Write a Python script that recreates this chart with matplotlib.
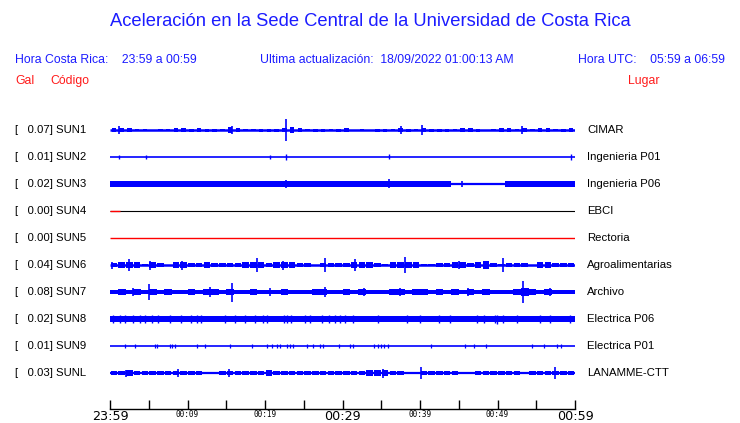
import numpy as np
import matplotlib
matplotlib.use("Agg")
import matplotlib.pyplot as plt

# ---------------- data ----------------
stations = ["SUN1", "SUN2", "SUN3", "SUN4", "SUN5", "SUN6", "SUN7", "SUN8", "SUN9", "SUNL"]
peak_gal = [0.07, 0.01, 0.02, 0.00, 0.00, 0.04, 0.08, 0.02, 0.01, 0.03]
places = ["CIMAR", "Ingenieria P01", "Ingenieria P06", "EBCI", "Rectoria",
          "Agroalimentarias", "Archivo", "Electrica P06", "Electrica P01", "LANAMME-CTT"]
tick_minutes = [0, 10, 20, 30, 40, 50, 60]
tick_labels = ["23:59", "00:09", "00:19", "00:29", "00:39", "00:49", "00:59"]

# per-minute envelope (half amplitude, pixel-like units)
env_sun1 = [2.5, 3, 2.5, 1.5, 1.5, 0.5, 1.5, 1.5, 2.5, 2.5, 2, 2.5, 2, 2, 1.5, 3.5, 3, 1.5, 1.5, 2,
            2, 2, 3, 3.5, 2.5, 1.5, 2, 2, 1.5, 2, 2.5, 0.5, 1.5, 0.5, 2, 2, 1.5, 2.5, 2, 1,
            3, 2, 2, 2, 1, 2.5, 2.5, 2, 0.5, 1.5, 2.5, 2.5, 1.5, 3, 1, 2.5, 2.5, 1.5, 2, 2.5]
env_sun2 = [0] * 60
env_sun3 = [3] * 44 + [0, 0, 0, 0, 0, 0, 0] + [3] * 9
env_sun4 = [0] * 60
env_sun5 = [0] * 60
env_sun6 = [2.5, 3, 3, 3, 1.5, 3, 2.5, 0.5, 3, 3.5, 2, 2, 3, 2.5, 2.5, 2.5, 2.5, 3, 3, 3,
            2, 3, 3, 3, 2.5, 2.5, 0.5, 2.5, 2.5, 2.5, 2, 3, 3, 3, 2.5, 1.5, 3.5, 3.5, 3.5, 3,
            1, 1.5, 2.5, 2, 3, 3, 2, 3, 4, 2, 1.5, 2.5, 2.5, 2.5, 0.5, 3, 3, 2.5, 2.5, 2.5]
env_sun7 = [2.5, 3, 2.5, 3, 2, 3.5, 2.5, 3, 2.5, 2.5, 3, 2.5, 3.5, 3, 2.5, 3, 2.5, 2.5, 3, 2.5,
            2.5, 2.5, 3, 2, 2.5, 2.5, 3, 3, 2.5, 2.5, 3, 2.5, 3, 2, 2.5, 2, 3, 3, 2.5, 3,
            3, 2.5, 3, 2.5, 3, 2.5, 3, 2.5, 3, 2.5, 2.5, 2.5, 3, 4, 3, 2.5, 3, 2, 2.5, 2.5]
env_sun8 = [3] * 60
env_sun9 = [0] * 60
env_sunl = [2, 2.5, 3, 2.5, 2.5, 2.5, 2, 2.5, 2.5, 2, 2.5, 2.5, 1, 1.5, 2.5, 2.5, 2.5, 2.5, 2.5, 2.5,
            3, 2.5, 2.5, 2, 2.5, 2.5, 2.5, 2, 2.5, 2.5, 2.5, 2.5, 2, 3, 3, 3, 2.5, 2, 1, 1,
            2, 2.5, 2.5, 2.5, 2.5, 1, 1, 2.5, 2, 2.5, 2.5, 2.5, 2.5, 1, 2.5, 2.5, 2.5, 2.5, 2.5, 2.5]

# spikes: (minute, half amplitude)
spk_sun1 = [(1.2, 4), (15.8, 4), (22.7, 11), (37.6, 4), (40.2, 5), (53.2, 4)]
spk_sun2 = [(1.2, 2), (4.6, 2), (20.7, 2), (22.7, 3), (36.0, 2.5), (59.5, 3)]
spk_sun3 = [(36.0, 4.5), (45.4, 3), (22.7, 4)]
spk_sun4 = []
spk_sun5 = []
spk_sun6 = [(0.3, 3.5), (2.4, 6), (5.1, 4.5), (9.3, 4.5), (19.0, 7), (22.3, 4.5), (27.7, 7),
            (31.6, 6), (38.0, 8), (45.0, 4), (50.7, 7)]
spk_sun7 = [(3.0, 4), (5.0, 8), (12.9, 5), (15.7, 9.5), (20.7, 4), (27.7, 5), (32.8, 4),
            (37.4, 4), (46.2, 4), (53.3, 11), (56.8, 4)]
spk_sun8 = [(0.4, 4), (1.3, 4), (1.9, 4), (3.0, 4), (3.9, 4), (4.5, 4), (5.4, 4), (6.2, 4),
            (7.7, 4), (9.2, 4), (10.5, 4), (11.2, 4), (11.8, 4), (14.8, 4), (16.1, 4), (17.4, 4),
            (18.7, 4), (19.8, 4), (20.2, 4), (22.4, 4), (22.8, 4), (23.4, 4), (25.2, 4), (25.8, 4),
            (27.3, 4), (28.2, 4), (29.0, 4), (29.7, 4), (30.3, 4), (31.4, 4), (34.6, 4), (38.3, 4),
            (40.0, 4), (42.4, 4), (43.9, 4), (47.3, 4), (48.2, 4), (49.7, 4), (49.9, 5), (50.7, 4),
            (52.5, 4), (55.5, 4), (56.8, 4), (59.4, 4)]
spk_sun9 = [(1.9, 2.5), (3.2, 2), (5.8, 2.5), (6.1, 2.5), (7.7, 2.5), (8.0, 2.5), (8.4, 2),
            (11.2, 2), (12.2, 2), (15.5, 2), (18.3, 2), (20.2, 2), (20.9, 2), (21.5, 2), (21.9, 2),
            (22.8, 2), (23.2, 2), (23.6, 2), (25.4, 2), (26.2, 2), (27.1, 2), (27.5, 2), (29.5, 2),
            (31.0, 2), (31.4, 2), (34.0, 2), (34.6, 2.5), (35.0, 2.5), (35.3, 2.5), (35.9, 2),
            (41.4, 2), (45.8, 2.5), (47.0, 2), (48.5, 2), (54.5, 2.5), (56.0, 2), (57.7, 2), (58.2, 2.5)]
spk_sunl = [(2.0, 3.5), (8.8, 4), (15.4, 4), (35.2, 4.5), (40.1, 6), (57.4, 6)]

envelopes = [env_sun1, env_sun2, env_sun3, env_sun4, env_sun5, env_sun6, env_sun7, env_sun8, env_sun9, env_sunl]
spikes = [spk_sun1, spk_sun2, spk_sun3, spk_sun4, spk_sun5, spk_sun6, spk_sun7, spk_sun8, spk_sun9, spk_sunl]

# ---------------- style ----------------
W, H = 740, 423
BLUE = "#0000ff"
TBLUE = "#1c1cff"
RED = "#ff1a1a"
trace_colors = [BLUE, BLUE, BLUE, "black", "red", BLUE, BLUE, BLUE, BLUE, BLUE]
base_lw = [1.8, 1.2, 1.6, 0.8, 1.0, 1.8, 1.8, 1.6, 1.2, 1.6]
bar_w = [0.6, 1.0, 1.0, 1.0, 1.0, 0.85, 1.0, 1.0, 1.0, 0.85]
env_scale = [0.75, 1, 1, 1, 1, 0.9, 0.9, 1, 1, 0.9]
spike_lw = [1.2, 1.0, 1.2, 1, 1, 1.2, 1.2, 1.0, 0.9, 1.2]
spike_scale = [1, 1, 1, 1, 1, 1, 1, 0.9, 0.8, 1]
row0, drow = 130, 27

plt.rcParams['font.family'] = ['Liberation Sans', 'DejaVu Sans']
fig = plt.figure(figsize=(W / 100, H / 100), dpi=100)
fig.patch.set_facecolor("white")


def fx(x):
    return x / W


def fy(y):
    return 1 - y / H


x0, x1, ytop, ybot = 110, 575, 110, 409
ax = fig.add_axes([fx(x0), fy(ybot), (x1 - x0) / W, (ybot - ytop) / H])
ax.set_xlim(0, 60)
ax.set_ylim(ybot, ytop)
for s in ["top", "left", "right"]:
    ax.spines[s].set_visible(False)
ax.spines["bottom"].set_linewidth(1.0)
ax.set_yticks([])

mins = np.arange(60)
for i, st in enumerate(stations):
    yc = row0 + drow * i
    ax.hlines(yc, 0, 60, color=trace_colors[i], lw=base_lw[i])
    env = np.array(envelopes[i], dtype=float) * env_scale[i]
    mask = env > 0
    if mask.any():
        ax.bar(mins[mask] + 0.5, 2 * env[mask], bottom=yc - env[mask], width=bar_w[i],
               color=trace_colors[i], linewidth=0)
    for (m, a) in spikes[i]:
        a = a * spike_scale[i]
        ax.vlines(m, yc - a, yc + a, color=trace_colors[i], lw=spike_lw[i])
    if st == "SUN4":
        ax.hlines(yc, 0, 1.3, color="red", lw=1.0)

    fig.text(fx(15), fy(yc), f"[   {peak_gal[i]:.2f}] {st}", fontsize=8.2, color="black",
             va="center", ha="left")
    fig.text(fx(587), fy(yc), places[i], fontsize=8.2, color="black", va="center", ha="left")

# time axis
ax.set_xticks(tick_minutes)
ax.set_xticks(np.arange(5, 60, 10), minor=True)
ax.tick_params(axis="x", which="both", direction="in", length=6.5, width=1.0, pad=0.8)
ax.set_xticklabels(tick_labels)
for j, lab in enumerate(ax.get_xticklabels()):
    if tick_labels[j] in ("23:59", "00:29", "00:59"):
        lab.set_fontsize(9.2)
        lab.set_family("DejaVu Sans")
    else:
        lab.set_fontsize(5.5)
        lab.set_family("DejaVu Sans Mono")

# headers
fig.text(0.5, fy(22), "Aceleración en la Sede Central de la Universidad de Costa Rica",
         fontsize=13.2, color=TBLUE, ha="center", va="center")
fig.text(fx(15), fy(60), "Hora Costa Rica:    23:59 a 00:59", fontsize=8.8, color=TBLUE,
         ha="left", va="center")
fig.text(fx(260), fy(60), "Ultima actualización:  18/09/2022 01:00:13 AM", fontsize=8.8,
         color=TBLUE, ha="left", va="center")
fig.text(fx(725), fy(60), "Hora UTC:    05:59 a 06:59", fontsize=8.8, color=TBLUE,
         ha="right", va="center")
fig.text(fx(15), fy(81), "Gal", fontsize=8.8, color=RED, ha="left", va="center")
fig.text(fx(50), fy(81), "Código", fontsize=8.8, color=RED, ha="left", va="center")
fig.text(fx(628), fy(81), "Lugar", fontsize=8.8, color=RED, ha="left", va="center")

fig.savefig("out.png", dpi=100, facecolor="white")
